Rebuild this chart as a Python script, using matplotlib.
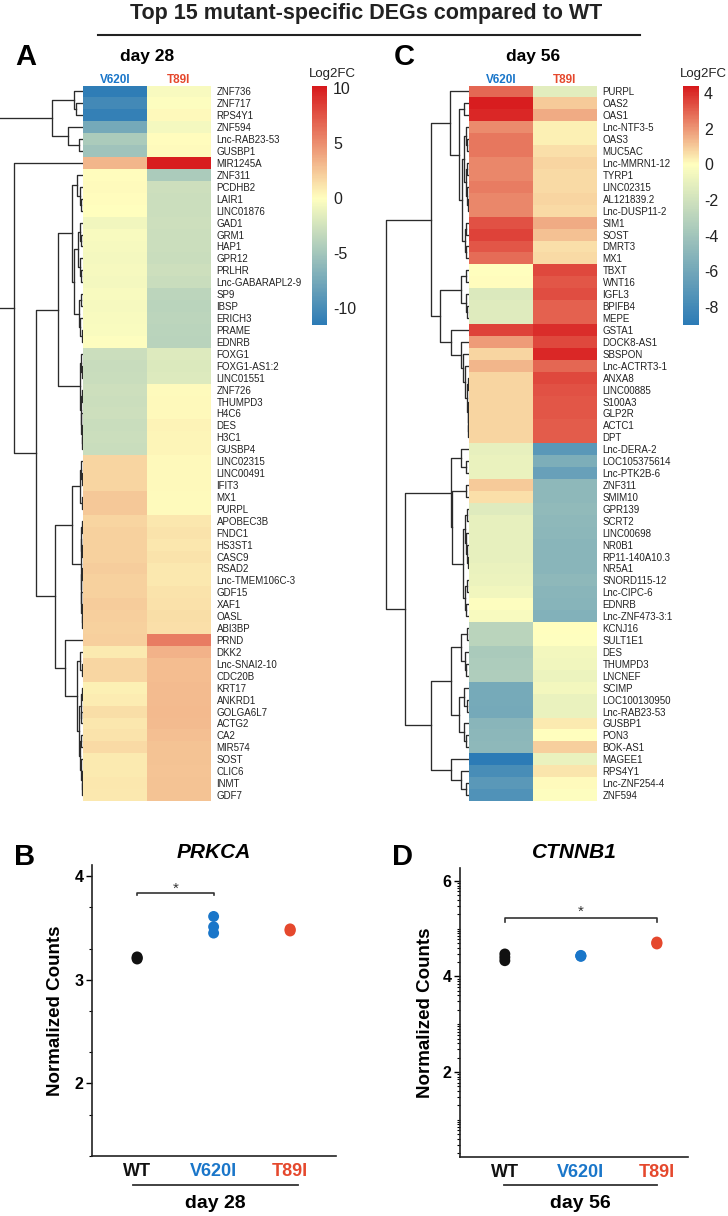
import numpy as np
import matplotlib
matplotlib.use("Agg")
import matplotlib.pyplot as plt
from matplotlib.colors import LinearSegmentedColormap, TwoSlopeNorm
from matplotlib.lines import Line2D

plt.rcParams['font.family'] = ['Liberation Sans', 'DejaVu Sans']

W, H = 728, 1216

# ---------------- panel A : day 28 heatmap ----------------
genes_d28 = ["ZNF736", "ZNF717", "RPS4Y1", "ZNF594", "Lnc-RAB23-53", "GUSBP1", "MIR1245A",
             "ZNF311", "PCDHB2", "LAIR1", "LINC01876", "GAD1", "GRM1", "HAP1", "GPR12", "PRLHR",
             "Lnc-GABARAPL2-9", "SP9", "IBSP", "ERICH3", "PRAME", "EDNRB", "FOXG1", "FOXG1-AS1:2",
             "LINC01551", "ZNF726", "THUMPD3", "H4C6", "DES", "H3C1", "GUSBP4", "LINC02315",
             "LINC00491", "IFIT3", "MX1", "PURPL", "APOBEC3B", "FNDC1", "HS3ST1", "CASC9", "RSAD2",
             "Lnc-TMEM106C-3", "GDF15", "XAF1", "OASL", "ABI3BP", "PRND", "DKK2", "Lnc-SNAI2-10",
             "CDC20B", "KRT17", "ANKRD1", "GOLGA6L7", "ACTG2", "CA2", "MIR574", "SOST", "CLIC6",
             "INMT", "GDF7"]
v620i_d28 = [-11.3, -10.2, -11.0, -7.5, -4.5, -5.2, 3.2,
             0.1, 0.2, 0.1, 0.0, -0.8, -0.4, -0.5, -0.6, -0.5,
             -0.6, -0.4, -0.5, -0.4, -0.3, -0.1, -2.8, -3.0,
             -2.9, -2.7, -2.8, -2.7, -2.9, -2.8, -2.9, 1.9,
             1.9, 1.9, 2.4, 2.4, 1.9, 2.0, 2.0, 2.0, 2.2,
             2.0, 2.0, 2.3, 2.1, 2.0, 2.1, 0.9, 1.8,
             1.8, 0.7, 0.8, 1.5, 1.1, 1.2, 1.6, 0.9, 0.9,
             1.1, 1.0]
t89i_d28 = [-0.4, -0.1, 0.3, -0.6, 0.1, 0.2, 10.0,
            -4.5, -2.7, -2.8, -2.8, -2.7, -2.8, -2.8, -2.9, -2.7,
            -2.9, -3.6, -3.7, -3.6, -3.7, -3.8, -1.8, -1.9,
            -1.8, 0.2, 0.3, 0.3, 0.5, 0.4, 0.4, 0.3,
            0.3, 0.3, 0.2, 0.2, 1.1, 1.2, 1.1, 1.2, 1.0,
            1.0, 1.2, 1.3, 1.5, 1.4, 5.8, 3.4, 2.9,
            2.9, 3.0, 3.0, 3.1, 3.0, 2.8, 2.7, 2.7, 2.6,
            2.7, 2.7]
legend_range_d28 = (-11.5, 10.2)
legend_ticks_d28 = [10, 5, 0, -5, -10]

# row dendrogram: (height, left, right), leaves are row numbers
tree_d28 = (100,
            (31, (9, 1, (7, 2, 3)), (15, 4, (4, 5, 6))),
            (69, 7,
             (47,
              (25,
               (11, (6, 8, (3, 9, (2, 10, 11))),
                (9, (5, (3, 12, (2, 13, 14)), (3, 15, (2, 16, 17))),
                 (4, (2, 18, 19), (3, 20, (1.5, 21, 22))))),
               (3.5, (2, 23, (1, 24, 25)),
                (2.5, (1.5, 26, 27), (2, 28, (1.5, 29, (1, 30, 31)))))),
              (28,
               (11, (3, (2, 32, (1.5, 33, 34)), (1.5, 35, 36)),
                (2.5, (2, (1.5, 37, 38), (1.5, 39, 40)),
                 (2, (1.5, 41, 42), (2, 43, (1.5, 44, (1, 45, 46)))))),
               (18, 47,
                (6, (3, 48, (1.5, 49, 50)),
                 (4, (2.5, (1.5, 51, 52), (2, 53, 54)),
                  (3, (2, 55, 56), (2, 57, (1.5, 58, (1, 59, 60)))))))))))

# ---------------- panel C : day 56 heatmap ----------------
genes_d56 = ["PURPL", "OAS2", "OAS1", "Lnc-NTF3-5", "OAS3", "MUC5AC", "Lnc-MMRN1-12", "TYRP1",
             "LINC02315", "AL121839.2", "Lnc-DUSP11-2", "SIM1", "SOST", "DMRT3", "MX1", "TBXT",
             "WNT16", "IGFL3", "BPIFB4", "MEPE", "GSTA1", "DOCK8-AS1", "SBSPON", "Lnc-ACTRT3-1",
             "ANXA8", "LINC00885", "S100A3", "GLP2R", "ACTC1", "DPT", "Lnc-DERA-2", "LOC105375614",
             "Lnc-PTK2B-6", "ZNF311", "SMIM10", "GPR139", "SCRT2", "LINC00698", "NR0B1",
             "RP11-140A10.3", "NR5A1", "SNORD115-12", "Lnc-CIPC-6", "EDNRB", "Lnc-ZNF473-3:1",
             "KCNJ16", "SULT1E1", "DES", "THUMPD3", "LNCNEF", "SCIMP", "LOC100130950",
             "Lnc-RAB23-53", "GUSBP1", "PON3", "BOK-AS1", "MAGEE1", "RPS4Y1", "Lnc-ZNF254-4", "ZNF594"]
v620i_d56 = [2.9, 4.3, 4.1, 2.2, 2.6, 2.6, 2.3, 2.3,
             2.5, 2.3, 2.3, 3.3, 3.6, 3.2, 2.8, 0.0,
             0.05, -1.5, -1.4, -1.4, 3.6, 1.9, 0.8, 1.4,
             0.8, 0.8, 0.8, 0.8, 0.8, 0.8, -1.0, -0.9,
             -0.9, 1.0, 0.6, -1.4, -1.0, -1.0, -1.0,
             -1.0, -0.9, -0.8, -0.6, -0.1, -0.3,
             -2.9, -2.9, -3.6, -3.5, -3.4, -5.8, -5.8,
             -5.9, -5.0, -4.9, -4.8, -9.0, -7.8, -7.0, -7.4]
t89i_d56 = [-1.2, 1.0, 1.6, 0.3, 0.3, 0.6, 0.8, 0.7,
            0.7, 0.8, 0.7, 1.6, 1.2, 0.6, 0.7, 3.5,
            3.2, 3.4, 3.0, 3.0, 4.0, 3.5, 4.1, 2.9,
            3.5, 3.3, 3.2, 3.2, 3.1, 3.1, -7.0, -5.5,
            -6.4, -4.8, -4.8, -4.7, -4.8, -4.9, -5.0,
            -5.0, -5.0, -4.8, -5.0, -5.1, -5.3,
            0.0, -0.05, -0.5, -0.6, -0.8, -0.5, -0.9,
            -0.9, 0.4, 0.0, 0.9, -0.9, 0.5, 0.1, -0.1]
legend_range_d56 = (-9.0, 4.4)
legend_ticks_d56 = [4, 2, 0, -2, -4, -6, -8]

tree_d56 = (83,
            (38,
             (19, 1,
              (10, (5, 2, 3),
               (7, (5, (3, 4, (2, 5, 6)), (3, (2, 7, 8), (2, 9, (1.5, 10, 11)))),
                (4, (3, 12, 13), (3, 14, 15))))),
             (29, (8, (3, 16, 17), (3, 18, (2, 19, 20))),
              (18, 21, (8, 22, (6, 23, (4, 24, (2, (1.5, 25, 26),
                                                 (1.5, 27, (1, 28, (0.8, 29, 30)))))))))),
            (64,
             (18.5, (8, 31, (3, 32, 33)),
              (17.5, (3, 34, 35),
               (6, (4, (2, 36, 37), (3, 38, (2, 39, (1.5, 40, 41)))),
                (4, (2, 42, 43), (3, 44, 45))))),
             (38, (18, (8, (2, 46, 47), (4, 48, (3, 49, 50))),
                   (10, (5, 51, (2, 52, 53)), (5, 54, (3, 55, 56)))),
              (18, 57, (8, 58, (3, 59, 60))))))

# ---------------- panels B and D ----------------
groups = ["WT", "V620I", "T89I"]
group_colors = ["#111111", "#1a76c9", "#e5482d"]
prkca = {"WT": [3.20, 3.21, 3.22], "V620I": [3.61, 3.51, 3.45], "T89I": [3.49, 3.48, 3.47]}
ctnnb1 = {"WT": [4.47, 4.40, 4.33], "V620I": [4.42, 4.43, 4.44], "T89I": [4.68, 4.70, 4.72]}

cmap = LinearSegmentedColormap.from_list("log2fc", ["#2c7bb6", "#ffffbf", "#d7191c"])


def px_axes(fig, x0, y0, x1, y1):
    return fig.add_axes([x0 / W, 1 - y1 / H, (x1 - x0) / W, (y1 - y0) / H])


def ftext(fig, x, y, s, **kw):
    fig.text(x / W, 1 - y / H, s, **kw)


def draw_tree(ax, node):
    if isinstance(node, int):
        return node - 0.5, 0.0
    h, a, b = node
    ya, ha = draw_tree(ax, a)
    yb, hb = draw_tree(ax, b)
    ax.plot([ha, h, h, hb], [ya, ya, yb, yb], color="#2b2b2b", lw=0.95)
    return (ya + yb) / 2, h


def heat_panel(fig, genes, v, t, vrange, ticks, tree, hx, dx0, cbx, day, letter, letter_x):
    norm = TwoSlopeNorm(vcenter=0, vmin=vrange[0], vmax=vrange[1])
    ax = px_axes(fig, hx, 85.5, hx + 128, 801)
    ax.pcolormesh(np.column_stack([v, t]), cmap=cmap, norm=norm)
    ax.set_xlim(0, 2)
    ax.set_ylim(len(genes), 0)
    for s in ax.spines.values():
        s.set_visible(False)
    ax.set_xticks([])
    ax.yaxis.tick_right()
    ax.set_yticks(np.arange(len(genes)) + 0.5)
    ax.set_yticklabels(genes, fontsize=7, color="#222222")
    ax.tick_params(axis="y", length=0, pad=4)
    ax.text(0.5, -0.45, "V620I", color=group_colors[1], fontsize=8.5, fontweight="bold",
            ha="center", va="center")
    ax.text(1.5, -0.45, "T89I", color=group_colors[2], fontsize=8.5, fontweight="bold",
            ha="center", va="center")

    dax = px_axes(fig, dx0, 85.5, hx, 801)
    draw_tree(dax, tree)
    dax.set_xlim(hx - dx0, 0)
    dax.set_ylim(len(genes), 0)
    dax.axis("off")

    cax = px_axes(fig, cbx, 86, cbx + 15.5, 325)
    edges = np.linspace(vrange[0], vrange[1], 301)
    cax.pcolormesh([0, 1], edges, ((edges[:-1] + edges[1:]) / 2)[:, None], cmap=cmap, norm=norm)
    cax.set_ylim(*vrange)
    cax.set_xticks([])
    cax.yaxis.tick_right()
    cax.set_yticks(ticks)
    cax.set_yticklabels([str(k) for k in ticks], fontsize=11.5, color="#222222")
    cax.tick_params(axis="y", length=0, pad=4)
    for s in cax.spines.values():
        s.set_visible(False)
    ftext(fig, cbx + 20, 74, "Log2FC", fontsize=9.5, ha="center", va="center", color="#222222")

    ftext(fig, hx + 64, 57, day, fontsize=12.5, fontweight="bold", ha="center", va="center")
    ftext(fig, letter_x, 57, letter, fontsize=21, fontweight="bold", ha="center", va="center")


def dot_panel(fig, rect, data, ylim, xlim, major, minor, gene, letter, letter_x, day,
              bracket, star_y, line_px):
    ax = px_axes(fig, *rect)
    for i, g in enumerate(groups):
        vals = data[g]
        ax.scatter(np.full(len(vals), i), vals, s=62, color=group_colors[i],
                   edgecolors="none", zorder=3)
    x0, x1, yb, ytop = bracket
    ax.plot([x0, x0, x1, x1], [yb, ytop, ytop, yb], color="#333333", lw=1.2)
    ax.text((x0 + x1) / 2, star_y, "*", ha="center", va="center", fontsize=11, color="#333333")
    ax.set_ylim(*ylim)
    ax.set_xlim(*xlim)
    ax.set_yticks(major)
    ax.set_yticklabels([str(k) for k in major], fontsize=11.5, fontweight="bold")
    ax.set_yticks(minor, minor=True)
    ax.set_xticks(range(len(groups)))
    ax.set_xticklabels(groups, fontsize=13, fontweight="bold")
    for lab, c in zip(ax.get_xticklabels(), group_colors):
        lab.set_color(c)
    ax.tick_params(axis="x", length=0, pad=5)
    ax.tick_params(axis="y", which="major", length=4, width=1.0, pad=2)
    ax.tick_params(axis="y", which="minor", length=2, width=0.8)
    for s in ["top", "right"]:
        ax.spines[s].set_visible(False)
    for s in ["left", "bottom"]:
        ax.spines[s].set_linewidth(1.2)
        ax.spines[s].set_color("#222222")
    ax.set_ylabel("Normalized Counts", fontsize=13.5, fontweight="bold")
    ax.yaxis.set_label_coords(-0.115, 0.5)
    xa, xb = rect[0], rect[2]
    ftext(fig, (xa + xb) / 2, 852, gene, fontsize=15, fontweight="bold", style="italic",
          ha="center", va="center")
    ftext(fig, letter_x, 857, letter, fontsize=21, fontweight="bold", ha="center", va="center")
    fig.add_artist(Line2D([line_px[0] / W, line_px[1] / W], [1 - 1185 / H] * 2,
                          color="#333333", lw=1.3))
    ftext(fig, (line_px[0] + line_px[1]) / 2, 1204, day, fontsize=14, fontweight="bold",
          ha="center", va="center")


fig = plt.figure(figsize=(W / 100, H / 100), dpi=100)

ftext(fig, 366, 14, "Top 15 mutant-specific DEGs compared to WT", fontsize=15.5,
      fontweight="bold", ha="center", va="center", color="#222222")
fig.add_artist(Line2D([98 / W, 640 / W], [1 - 35 / H] * 2, color="#222222", lw=1.5))

heat_panel(fig, genes_d28, v620i_d28, t89i_d28, legend_range_d28, legend_ticks_d28, tree_d28,
           83, 0, 312, "day 28", "A", 26)
heat_panel(fig, genes_d56, v620i_d56, t89i_d56, legend_range_d56, legend_ticks_d56, tree_d56,
           469, 380, 683, "day 56", "C", 404)

minor_b = [k + np.log10(m) for k in [1, 2, 3] for m in [2, 5]]
dot_panel(fig, (92, 865, 336, 1156), prkca, (1.9, 4.106), (-0.59, 2.6), [2, 3, 4], minor_b,
          "PRKCA", "B", 25, "day 28", (0, 1, 3.82, 3.84), 3.875, (133, 298))

minor_d = [k + np.log10(m) for k in range(0, 7) for m in range(1, 10)]
minor_d = [v for v in minor_d if 0.22 < v < 6.27 and v not in (2, 4, 6)]
dot_panel(fig, (460, 868, 688, 1157), ctnnb1, (0.22, 6.27), (-0.59, 2.41), [2, 4, 6], minor_d,
          "CTNNB1", "D", 402, "day 56", (0, 2, 5.14, 5.22), 5.35, (504, 657))

fig.savefig("out.png", dpi=100)
